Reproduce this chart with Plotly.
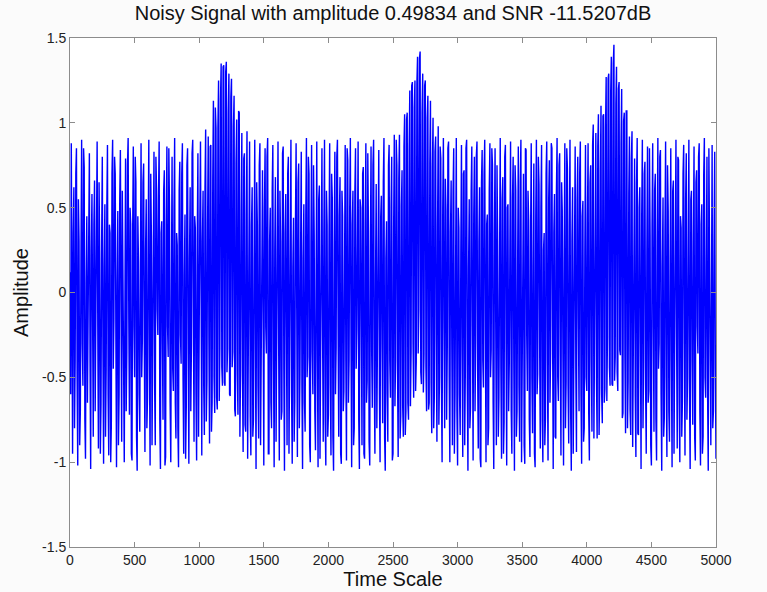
import numpy as np
import plotly.graph_objects as go

# Sample spacing of the noisy record (time units)
t_step = 5
t_end = 5000

# Noisy signal amplitude, one value every 5 time units; each row covers 200 time units
amp_0000 = [0.12, -0.60, 0.88, 0.10, -0.95, 0.35, 0.62, -0.80, -0.40, 0.70, 0.85, -0.50, -1.02, 0.55, 0.30, -0.90, -0.70, 0.20, 0.90, -0.30,
            -0.55, 0.85, 0.74, -0.75, -0.98, 0.05, 0.45, -0.65, -0.20, 0.60, 0.82, -0.40, -1.04, 0.25, 0.58, -0.15, -0.85, 0.40, 0.66, -0.70]
amp_0200 = [-0.30, 0.45, 0.89, -0.20, -0.92, 0.65, 0.20, -0.95, -0.66, 0.30, 0.80, -0.35, -1.01, 0.15, 0.52, -0.85, -0.45, 0.50, 0.87, -0.60,
            -0.96, 0.40, 0.35, -1.00, -0.78, 0.70, 0.90, -0.45, -0.15, 0.80, 0.70, -0.25, -1.03, 0.05, 0.48, -0.90, -0.60, 0.55, 0.84, -0.10]
amp_0400 = [-0.88, 0.60, 0.25, -0.45, -1.00, 0.20, 0.79, -0.70, -0.35, 0.75, 0.91, -0.15, -0.72, 0.50, 0.40, -0.95, -0.99, 0.35, 0.86, -0.20,
            -0.50, 0.80, 0.65, -0.85, -1.05, 0.45, 0.18, -0.60, -0.82, 0.10, 0.88, -0.50, -0.28, 0.65, 0.76, -0.30, -0.94, 0.25, 0.55, -0.80]
amp_0600 = [-0.62, 0.30, 0.90, -0.40, -1.02, 0.70, 0.33, -0.90, -0.48, 0.15, 0.83, -0.55, -0.90, 0.80, 0.60, -0.10, -0.25, 0.55, 0.89, -0.75,
            -1.04, 0.35, 0.42, -0.30, -0.75, 0.60, 0.72, -1.02, -0.97, 0.40, 0.86, -0.20, -0.38, 0.85, 0.50, -0.65, -1.00, 0.05, 0.80, -0.45]
amp_0800 = [-0.58, 0.50, 0.91, -0.65, -0.86, 0.35, 0.28, -0.80, -1.03, 0.60, 0.77, -0.25, -0.42, 0.70, 0.88, -0.50, -0.95, 0.10, 0.46, -0.98,
            -0.68, 0.75, 0.85, -0.35, -1.01, 0.20, 0.62, -0.70, -0.30, 0.82, 0.90, -0.15, -0.88, 0.45, 0.38, -0.60, -0.99, 0.30, 0.82, -0.85]
amp_1000 = [-0.43, 0.43, 0.89, -0.67, -0.96, 0.30, 0.60, -0.55, -0.84, 0.62, 0.96, -0.76, -0.52, 0.41, 0.92, -0.27, -0.89, 0.86, 0.87, -0.82,
            -0.65, 0.67, 1.13, -0.50, -0.71, 1.09, 0.97, -0.62, -0.69, 0.97, 1.25, -0.64, -0.33, 1.14, 1.35, -0.44, -0.55, 1.33, 1.34, -0.53]
amp_1200 = [-0.55, 1.30, 1.36, -0.47, -0.33, 1.06, 1.29, -0.60, -0.61, 1.15, 1.26, -0.44, -0.35, 0.98, 1.16, -0.69, -0.73, 0.76, 1.02, -0.48,
            -0.72, 1.07, 1.06, -0.85, -0.46, 0.48, 0.94, -0.49, -0.94, 0.79, 0.82, -0.78, -0.82, 0.46, 0.95, -0.98, -0.46, 0.59, 0.89, -0.73]
amp_1400 = [-0.96, 0.40, 0.62, -0.85, -0.75, 0.20, 0.90, -0.30, -1.04, 0.65, 0.40, -0.55, -0.86, 0.75, 0.88, -0.90, -0.55, 0.15, 0.72, -0.70,
            -1.02, 0.50, 0.85, -0.20, -0.36, 0.80, 0.91, -0.95, -0.95, 0.30, 0.50, -0.65, -0.80, 0.60, 0.87, -0.40, -1.03, 0.25, 0.68, -0.88]
amp_1600 = [-0.42, 0.55, 0.89, -0.30, -0.99, 0.60, 0.30, -0.75, -0.70, 0.82, 0.86, -0.45, -1.05, 0.35, 0.58, -0.20, -0.90, 0.70, 0.80, -0.95,
            -0.25, 0.50, 0.90, -0.60, -1.01, 0.15, 0.44, -0.88, -0.64, 0.40, 0.88, -0.10, -0.97, 0.65, 0.76, -0.80, -0.48, 0.25, 0.83, -0.55]
amp_1800 = [-1.04, 0.20, 0.52, -0.65, -0.82, 0.45, 0.91, -0.50, -0.38, 0.80, 0.70, -0.90, -1.00, 0.30, 0.87, -0.35, -0.60, 0.75, 0.34, -0.70,
            -0.93, 0.10, 0.89, -0.40, -1.03, 0.55, 0.63, -0.98, -0.46, 0.65, 0.85, -0.25, -0.88, 0.35, 0.90, -0.75, -1.02, 0.60, 0.40, -0.85]
amp_2000 = [-0.72, 0.35, 0.88, -0.55, -0.96, 0.70, 0.56, -0.85, -1.05, 0.25, 0.83, -0.60, -0.32, 0.80, 0.90, -0.20, -0.85, 0.45, 0.68, -0.95,
            -1.01, 0.60, 0.45, -0.70, -0.58, 0.15, 0.87, -0.40, -0.99, 0.85, 0.78, -0.65, -0.40, 0.50, 0.91, -0.30, -1.03, 0.40, 0.60, -0.90]
amp_2200 = [-0.80, 0.60, 0.85, -0.45, -0.22, 0.30, 0.89, -0.75, -1.04, 0.55, 0.50, -0.20, -0.90, 0.70, 0.74, -0.95, -0.98, 0.40, 0.88, -0.65,
            -0.52, 0.82, 0.36, -0.88, -1.02, 0.25, 0.86, -0.35, -0.68, 0.75, 0.90, -0.50, -0.95, 0.10, 0.64, -0.80, -0.30, 0.65, 0.84, -0.60]
amp_2400 = [-1.00, 0.45, 0.57, -0.30, -0.77, 0.65, 0.91, -0.85, -1.05, 0.20, 0.42, -0.60, -0.88, 0.75, 0.87, -0.40, -0.62, 0.50, 0.80, -0.99,
            -0.95, 0.38, 0.93, -0.67, -0.40, 0.90, 0.75, -0.45, -0.97, 0.67, 0.93, -0.86, -0.73, 0.51, 0.72, -0.67, -0.85, 0.86, 1.05, -0.84]
amp_2600 = [-0.70, 1.02, 1.06, -0.65, -0.75, 0.84, 1.19, -0.67, -0.35, 1.22, 1.24, -0.30, -0.62, 1.09, 1.25, -0.58, -0.41, 1.23, 1.39, -0.36,
            -0.10, 1.38, 1.42, -0.47, -0.54, 1.06, 1.29, -0.59, -0.36, 1.22, 1.25, -0.44, -0.70, 1.03, 1.16, -0.69, -0.65, 0.76, 1.13, -0.53]
amp_2800 = [-0.83, 0.74, 1.03, -0.80, -0.61, 0.83, 0.92, -0.29, -0.88, 0.39, 0.98, -0.78, -0.49, 0.86, 0.79, -0.56, -1.00, 0.49, 0.91, -0.18,
            -0.80, 0.67, 0.48, -0.75, -0.35, 0.85, 0.89, -0.50, -1.00, 0.35, 0.66, -0.30, -0.90, 0.60, 0.85, -0.95, -0.60, 0.20, 0.91, -0.70]
amp_3000 = [-1.02, 0.50, 0.38, -0.60, -0.84, 0.25, 0.87, -0.35, -0.97, 0.70, 0.72, -0.90, -0.45, 0.85, 0.90, -0.55, -1.05, 0.15, 0.55, -0.80,
            -0.68, 0.60, 0.86, -0.20, -0.99, 0.45, 0.80, -0.70, -0.28, 0.80, 0.89, -0.45, -0.92, 0.30, 0.62, -0.98, -1.03, 0.65, 0.84, -0.40]
amp_3200 = [-0.56, 0.70, 0.90, -0.25, -1.00, 0.40, 0.46, -0.90, -0.80, 0.60, 0.88, -0.50, -0.34, 0.85, 0.75, -0.65, -1.04, 0.35, 0.85, -0.15,
            -0.90, 0.75, 0.30, -0.85, -0.62, 0.20, 0.91, -0.45, -0.98, 0.55, 0.68, -0.95, -0.76, 0.80, 0.87, -0.30, -1.02, 0.50, 0.52, -0.70]
amp_3400 = [-0.42, 0.30, 0.89, -0.70, -0.95, 0.55, 0.80, -0.40, -1.05, 0.75, 0.60, -0.85, -0.70, 0.20, 0.86, -0.55, -0.88, 0.65, 0.90, -1.00,
            -0.26, 0.40, 0.70, -0.90, -1.01, 0.85, 0.84, -0.25, -0.58, 0.60, 0.43, -0.75, -0.97, 0.35, 0.88, -0.50, -0.83, 0.15, 0.76, -0.95]
amp_3600 = [-1.03, 0.45, 0.90, -0.60, -0.48, 0.80, 0.64, -0.30, -0.92, 0.50, 0.87, -0.75, -1.00, 0.25, 0.35, -0.90, -0.74, 0.70, 0.89, -0.40,
            -0.99, 0.55, 0.78, -0.65, -0.36, 0.88, 0.85, -0.20, -1.04, 0.35, 0.58, -0.85, -0.86, 0.60, 0.91, -0.50, -0.64, 0.75, 0.82, -0.35]
amp_3800 = [-0.96, 0.65, 0.48, -0.35, -1.02, 0.20, 0.88, -0.80, -0.52, 0.85, 0.73, -0.55, -0.89, 0.40, 0.90, -0.70, -1.05, 0.30, 0.62, -0.95,
            -0.40, 0.75, 0.86, -0.45, -0.94, 0.55, 0.80, -0.15, -0.70, 0.70, 0.89, -0.60, -1.01, 0.45, 0.54, -0.88, -0.80, 0.25, 0.87, -0.50]
amp_4000 = [-0.58, 0.43, 0.88, -0.72, -0.99, 0.65, 0.75, -0.40, -0.82, 0.87, 0.99, -0.86, -0.35, 0.41, 0.94, -0.52, -0.86, 0.86, 1.05, -0.84,
            -0.56, 0.72, 1.10, -0.60, -0.77, 1.04, 1.05, -0.65, -0.57, 0.97, 1.27, -0.64, -0.26, 1.26, 1.29, -0.44, -0.55, 1.18, 1.39, -0.54]
amp_4200 = [-0.55, 1.35, 1.46, -0.52, -0.38, 1.11, 1.33, -0.47, -0.58, 1.20, 1.24, -0.34, -0.37, 0.88, 1.20, -0.74, -0.71, 1.01, 1.06, -0.38,
            -0.83, 1.07, 1.07, -0.80, -0.52, 0.58, 0.92, -0.69, -0.84, 0.79, 0.95, -0.91, -0.44, 0.41, 0.79, -0.61, -0.97, 0.64, 0.91, -0.83]
amp_4400 = [-0.84, 0.50, 0.62, -0.30, -1.04, 0.45, 0.90, -0.80, -0.40, 0.70, 0.77, -0.55, -0.95, 0.25, 0.86, -0.65, -0.58, 0.85, 0.34, -0.90,
            -1.02, 0.40, 0.88, -0.20, -0.82, 0.60, 0.70, -0.75, -0.99, 0.30, 0.91, -0.45, -0.30, 0.80, 0.84, -0.60, -1.05, 0.15, 0.56, -0.85]
amp_4600 = [-0.74, 0.35, 0.89, -0.50, -0.97, 0.75, 0.48, -0.70, -0.88, 0.20, 0.85, -0.40, -1.03, 0.60, 0.66, -0.95, -0.44, 0.50, 0.90, -0.25,
            -0.92, 0.80, 0.78, -0.65, -1.00, 0.45, 0.38, -0.85, -0.64, 0.70, 0.87, -0.30, -0.96, 0.55, 0.82, -0.75, -0.50, 0.25, 0.90, -0.60]
amp_4800 = [-1.04, 0.55, 0.60, -0.40, -0.78, 0.30, 0.86, -0.85, -0.99, 0.65, 0.72, -0.20, -0.36, 0.80, 0.88, -0.70, -1.02, 0.40, 0.52, -0.95,
            -0.85, 0.70, 0.91, -0.50, -0.62, 0.15, 0.80, -0.60, -1.05, 0.85, 0.44, -0.35, -0.90, 0.50, 0.87, -0.80, -0.70, 0.30, 0.83, -0.45]
amp_5000 = [-0.98]

x_tick_vals = [0, 500, 1000, 1500, 2000, 2500, 3000, 3500, 4000, 4500, 5000]
y_tick_vals = [-1.5, -1, -0.5, 0, 0.5, 1, 1.5]
y_tick_text = ["-1.5", "-1", "-0.5", "0", "0.5", "1", "1.5"]

amplitude = (amp_0000 + amp_0200 + amp_0400 + amp_0600 + amp_0800 + amp_1000 + amp_1200
             + amp_1400 + amp_1600 + amp_1800 + amp_2000 + amp_2200 + amp_2400 + amp_2600
             + amp_2800 + amp_3000 + amp_3200 + amp_3400 + amp_3600 + amp_3800 + amp_4000
             + amp_4200 + amp_4400 + amp_4600 + amp_4800 + amp_5000)
time_scale = np.arange(0, t_end + t_step, t_step)[: len(amplitude)]

FONT = "Liberation Sans, Arial, sans-serif"
AXIS_COLOR = "#8c8c8c"

fig = go.Figure(
    go.Scatter(
        x=time_scale,
        y=amplitude,
        mode="lines",
        line=dict(color="#0000ff", width=1.4),
        showlegend=False,
        hoverinfo="x+y",
    )
)

axis_common = dict(
    showline=True,
    linecolor=AXIS_COLOR,
    linewidth=1,
    mirror="ticks",
    ticks="inside",
    ticklen=5,
    tickcolor=AXIS_COLOR,
    showgrid=False,
    zeroline=False,
    tickfont=dict(family=FONT, size=14, color="#222222"),
)

fig.update_xaxes(
    range=[0, 5000],
    tickvals=x_tick_vals,
    title=dict(text="Time Scale", font=dict(family=FONT, size=20, color="#111111"), standoff=1),
    automargin=False,
    **axis_common,
)
fig.update_yaxes(
    range=[-1.5, 1.5],
    tickvals=y_tick_vals,
    ticktext=y_tick_text,
    title=dict(text="Amplitude", font=dict(family=FONT, size=20, color="#111111"), standoff=8),
    automargin=False,
    **axis_common,
)

fig.update_layout(
    width=767,
    height=592,
    margin=dict(l=70, r=51, t=38, b=45),
    paper_bgcolor="#fbfbfb",
    plot_bgcolor="#ffffff",
    title=dict(
        text="Noisy Signal with amplitude 0.49834 and SNR -11.5207dB",
        font=dict(family=FONT, size=20, color="#111111"),
        x=0.5,
        xref="paper",
        xanchor="center",
        y=1 - 13 / 592,
        yanchor="middle",
    ),
)

fig.write_html("out.html")
